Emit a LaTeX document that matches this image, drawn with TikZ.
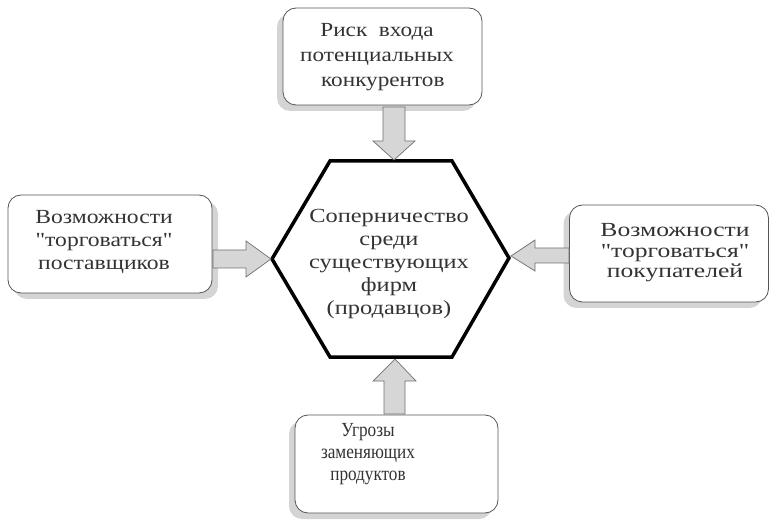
\documentclass[tikz,border=0pt]{standalone}
\usepackage{fontspec}
\setmainfont{Liberation Serif}
\newfontfamily\fontTop[FakeStretch=1.16]{Liberation Serif}
\newfontfamily\fontLeft[FakeStretch=1.18]{Liberation Serif}
\newfontfamily\fontRight[FakeStretch=1.28]{Liberation Serif}
\newfontfamily\fontBot[FakeStretch=0.86]{Liberation Serif}
\newfontfamily\fontHex[FakeStretch=1.22]{Liberation Serif}
\usetikzlibrary{shadows,calc}
\definecolor{boxline}{HTML}{555555}
\definecolor{arrfill}{HTML}{D6D6D6}
\definecolor{arrline}{HTML}{707070}
\definecolor{shade}{HTML}{D4D4D4}
\tikzset{
  box/.style={draw=boxline, line width=0.8pt, fill=white, rounded corners=13pt, inner sep=0pt},
  shadowL/.style={drop shadow={shadow xshift=-6pt, shadow yshift=-6pt, fill=shade, opacity=1}},
  shadowR/.style={drop shadow={shadow xshift=6pt, shadow yshift=-6pt, fill=shade, opacity=1}},
  txt/.style={align=center, inner sep=0pt, text=black!80},
  fatarr/.style={draw=arrline, fill=arrfill, line width=0.7pt, line join=miter},
  hex/.style={draw=black, line width=3.5pt, line join=miter, fill=white}
}
\begin{document}
\begin{tikzpicture}[x=1pt,y=-1pt]
\useasboundingbox (0,0) rectangle (771,521);
% boxes
\node[box, shadowL, minimum width=199pt, minimum height=97pt] (top) at (382.5,56.5) {};
\node[box, shadowR, minimum width=204pt, minimum height=98pt] (left) at (110,244) {};
\node[box, shadowL, minimum width=199pt, minimum height=97pt] (right) at (669,253.5) {};
\node[box, shadowL, minimum width=203pt, minimum height=98pt] (bottom) at (396.5,464) {};
% texts
\node[txt, font=\fontTop\fontsize{20}{25}\selectfont] (toptxt) at (377,57) {Риск\ \ входа\\потенциальных\\\ \ конкурентов};
\node[txt, font=\fontLeft\fontsize{20}{23}\selectfont] (lefttxt) at (104,242) {Возможности\\"торговаться"\\поставщиков};
\node[txt, font=\fontRight\fontsize{20}{20.5}\selectfont] (righttxt) at (675,253) {Возможности\\"торговаться"\\покупателей};
\node[txt, font=\fontBot\fontsize{20}{22}\selectfont] (bottxt) at (368,454) {Угрозы\\заменяющих\\продуктов};
% hexagon
\coordinate (hT1) at (330,161);
\coordinate (hT2) at (452,161);
\coordinate (hR) at (509,258);
\coordinate (hB2) at (452,357);
\coordinate (hB1) at (330,357);
\coordinate (hL) at (272,259);
\draw[hex] (hT1) -- (hT2) -- (hR) -- (hB2) -- (hB1) -- (hL) -- cycle;
\node[txt, font=\fontHex\fontsize{20}{23}\selectfont] (center) at (389,264) {Соперничество\\среди\\существующих\\фирм\\(продавцов)};
% arrows
\coordinate (tT) at (394,160);
\coordinate (tL) at (271,259);
\coordinate (tR) at (511,256);
\coordinate (tB) at (395,359);
\draw[fatarr] (tT) -- ++(-21,-19) -- ++(10,0) -- ++(0,-34) -- ++(22,0) -- ++(0,34) -- ++(10,0) -- cycle;
\draw[fatarr] (tL) -- ++(-25,-18) -- ++(0,9) -- ++(-33,0) -- ++(0,18) -- ++(33,0) -- ++(0,9) -- cycle;
\draw[fatarr] (tR) -- ++(24,-16) -- ++(0,8) -- ++(34,0) -- ++(0,15) -- ++(-34,0) -- ++(0,8) -- cycle;
\draw[fatarr] (tB) -- ++(-22,22) -- ++(11,0) -- ++(0,33) -- ++(21,0) -- ++(0,-33) -- ++(11,0) -- cycle;
\end{tikzpicture}
\end{document}
